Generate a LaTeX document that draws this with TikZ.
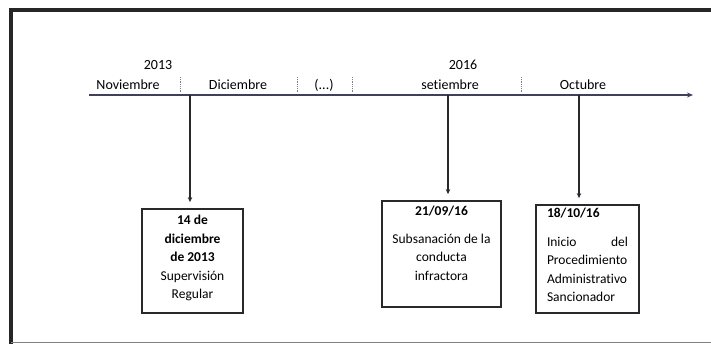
\documentclass[tikz,border=0pt]{standalone}
\usepackage{fontspec}
\setmainfont[Ligatures=NoCommon]{Carlito}
\usetikzlibrary{positioning,arrows.meta}

\definecolor{linegray}{RGB}{40,40,45}
\definecolor{axisblue}{RGB}{62,64,92}

\tikzset{
  yearlbl/.style={anchor=base, font=\fontsize{14}{16}\selectfont},
  monthlbl/.style={anchor=base, font=\fontsize{14}{16}\selectfont},
  evbox/.style={draw=linegray, line width=1.8pt, inner sep=0pt},
  evtext/.style={font=\fontsize{13.5}{18.5}\selectfont, inner sep=0pt},
  monthsep/.style={densely dotted, gray, line width=0.8pt},
  evarrow/.style={-{Stealth[length=5pt,width=4.5pt]}, line width=1.8pt, linegray, shorten >=6pt}
}

\begin{document}
\begin{tikzpicture}[x=1pt, y=-1pt]

        \useasboundingbox (0,0) rectangle (711,344);

        % frame
        \draw[line width=4pt, black!85] (10.5,344) -- (10.5,10.5) -- (711,10.5);
        \draw[line width=1.2pt, gray] (10.5,342.5) -- (711,342.5);

        % years
        \node[yearlbl] (y2013) at (158,70) {2013};
        \node[yearlbl] (y2016) at (463,70) {2016};

        % months
        \node[monthlbl] (nov) at (128,90) {Noviembre};
        \node[monthlbl] (dic) at (238,90) {Diciembre};
        \node[monthlbl] (dots) at (324,90) {(...)};
        \node[monthlbl] (set) at (450,90) {setiembre};
        \node[monthlbl] (oct) at (583,90) {Octubre};

        \draw[monthsep] (180,77) -- (180,92);
        \draw[monthsep] (297,77) -- (297,92);
        \draw[monthsep] (352,77) -- (352,92);
        \draw[monthsep] (521,77) -- (521,92);

        % ###################################### timeline

        \coordinate (start) at (89,95);
        \coordinate (end) at (693,95);
        \draw[-{Stealth[length=6pt,width=5pt]}, line width=1.5pt, axisblue] (start) -- (end);

        \coordinate (t1) at (190,95);
        \coordinate (t2) at (448,95);
        \coordinate (t3) at (579,95);

        % ###################################### events

        \node[evbox, minimum width=101pt, minimum height=104pt] (b1) at (192.5,261) {};
        \node[evtext, align=center, below=7pt of b1.north] (e1)
        {\textbf{14 de}\\ \textbf{diciembre}\\ \textbf{de 2013}\\ Supervisión\\ Regular};

        \node[evbox, minimum width=119pt, minimum height=106pt] (b2) at (441.5,254) {};
        \node[evtext, align=center, below=6pt of b2.north] (e2)
        {\textbf{21/09/16}\\[9pt] Subsanación de la\\ conducta\\ infractora};

        \node[evbox, minimum width=103pt, minimum height=108pt] (b3) at (587.5,259) {};
        \node[evtext, text width=81pt, align=left, below=4pt of b3.north] (e3)
        {\textbf{18/10/16}\\[10pt] Inicio\hfill del\\ Procedimiento\\ Administrativo\\ Sancionador};

        \draw[evarrow] (t1) -- (t1 |- b1.north);
        \draw[evarrow] (t2) -- (t2 |- b2.north);
        \draw[evarrow] (t3) -- (t3 |- b3.north);

\end{tikzpicture}
\end{document}
